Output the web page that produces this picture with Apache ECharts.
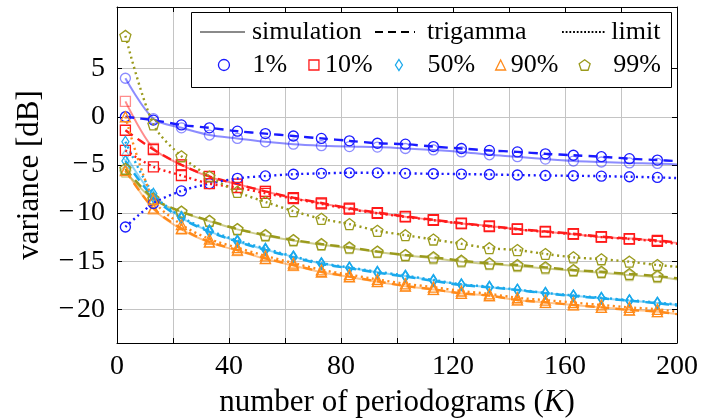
<!DOCTYPE html>
<html><head><meta charset="utf-8">
<script src="https://cdn.jsdelivr.net/npm/echarts@6/dist/echarts.min.js"></script>
<style>html,body{margin:0;padding:0;background:#fff}#c{width:702px;height:419px}</style>
</head><body><div id="c"></div>
<script>
// number of periodograms where markers are drawn; last value of each array is at K = 200
const K = [3,13,23,33,43,53,63,73,83,93,103,113,123,133,143,153,163,173,183,193];
const K_END = 200;
const xTicks = [0,40,80,120,160,200];
const yTicks = [-20,-15,-10,-5,0,5];
const quantiles = ['1%','10%','50%','90%','99%'];
const methods = ['simulation','trigamma','limit'];

// 1 %
const sim1  = [4.0,-0.2,-1.15,-1.9,-2.25,-2.6,-2.85,-3.0,-3.1,-3.15,-3.3,-3.45,-3.65,-3.95,-4.15,-4.4,-4.6,-4.7,-4.8,-4.85,-4.95];
const trig1 = [0.0,-0.35,-0.85,-1.15,-1.5,-1.75,-2.0,-2.25,-2.5,-2.75,-2.85,-3.1,-3.3,-3.5,-3.65,-3.85,-4.0,-4.15,-4.35,-4.5,-4.6];
const lim1  = [-11.45,-9.0,-7.7,-6.95,-6.4,-6.15,-5.97,-5.88,-5.82,-5.82,-5.88,-5.92,-5.95,-6.0,-6.05,-6.1,-6.13,-6.17,-6.23,-6.3,-6.37];
// 10 %
const sim10  = [1.6,-3.3,-5.0,-6.25,-7.0,-7.75,-8.45,-9.0,-9.55,-10.0,-10.38,-10.73,-11.1,-11.35,-11.7,-11.95,-12.2,-12.5,-12.65,-12.9,-13.1];
const trig10 = [-1.4,-3.4,-5.0,-6.2,-7.0,-7.75,-8.4,-8.95,-9.5,-9.95,-10.35,-10.7,-11.05,-11.35,-11.65,-11.9,-12.15,-12.45,-12.65,-12.85,-13.05];
const lim10  = [-3.5,-5.2,-6.1,-6.95,-7.35,-7.95,-8.5,-9.05,-9.6,-10.03,-10.4,-10.75,-11.1,-11.4,-11.7,-11.95,-12.2,-12.5,-12.7,-12.95,-13.2];
// 50 %
const sim50  = [-4.0,-8.2,-10.5,-11.9,-12.95,-13.8,-14.55,-15.25,-15.7,-16.15,-16.55,-17.0,-17.45,-17.7,-18.0,-18.3,-18.6,-18.85,-19.1,-19.35,-19.55];
const trig50 = [-4.6,-8.4,-10.55,-11.95,-12.98,-13.84,-14.6,-15.3,-15.74,-16.2,-16.6,-17.06,-17.48,-17.72,-18.0,-18.34,-18.62,-18.86,-19.1,-19.38,-19.6];
const lim50  = [-2.6,-8.0,-10.4,-11.8,-12.85,-13.7,-14.5,-15.2,-15.65,-16.1,-16.5,-16.95,-17.4,-17.65,-17.95,-18.3,-18.55,-18.8,-19.05,-19.3,-19.5];
// 90 %
const sim90  = [-5.5,-9.6,-11.7,-13.05,-13.9,-14.75,-15.45,-16.15,-16.65,-17.15,-17.6,-17.95,-18.35,-18.6,-19.05,-19.3,-19.55,-19.8,-20.05,-20.25,-20.5];
const trig90 = [-5.6,-9.5,-11.6,-13.0,-13.84,-14.7,-15.4,-16.1,-16.6,-17.1,-17.58,-17.93,-18.34,-18.58,-19.03,-19.27,-19.55,-19.8,-20.07,-20.25,-20.5];
const lim90  = [0.0,-8.6,-11.2,-12.7,-13.6,-14.45,-15.2,-15.9,-16.4,-16.9,-17.35,-17.7,-18.1,-18.4,-18.8,-19.05,-19.3,-19.55,-19.8,-20.0,-20.25];
// 99 %
const sim99  = [-5.7,-8.6,-9.9,-10.85,-11.7,-12.35,-12.85,-13.3,-13.65,-14.05,-14.4,-14.7,-15.05,-15.3,-15.5,-15.75,-16.0,-16.2,-16.45,-16.65,-16.9];
const trig99 = [-5.4,-8.5,-9.85,-10.8,-11.66,-12.28,-12.8,-13.22,-13.57,-14.0,-14.36,-14.6,-14.95,-15.22,-15.4,-15.64,-15.92,-16.1,-16.33,-16.54,-16.78];
const lim99  = [8.4,-0.8,-4.1,-6.2,-7.8,-8.85,-9.8,-10.6,-11.15,-11.85,-12.3,-12.75,-13.2,-13.65,-13.85,-14.25,-14.6,-14.8,-15.05,-15.4,-15.58];

const FONT = 'Liberation Serif';
const FS = 26;      // legend
const FS_TICK = 28; // tick labels
const FS_NAME = 31; // axis titles
const COLORS = ['#1a1aff','#ff1a1a','#1aa9ec','#ff8a1a','#9a9a1c'];
const PENT = 'path://M0,-1L0.951,-0.309L0.588,0.809L-0.588,0.809L-0.951,-0.309Z';
const SYMBOLS = ['circle','rect','diamond','triangle',PENT];
const SIZES = [10,10,[7,11],10,11];
const VALUES = [[sim1,trig1,lim1],[sim10,trig10,lim10],[sim50,trig50,lim50],[sim90,trig90,lim90],[sim99,trig99,lim99]];

function mk(qi, mi) {
  const vals = VALUES[qi][mi];
  const color = COLORS[qi];
  const data = K.map((k,i)=>[k, vals[i]]);
  data.push({value:[K_END, vals[K.length]], symbol:'none'});
  const type = mi===0 ? 'solid' : (mi===1 ? [9,6] : [2,3.4]);
  const op = mi===0 ? 0.5 : 1;
  return {
    type:'line', name: methods[mi]+' '+quantiles[qi], data, smooth:0.3,
    symbol: SYMBOLS[qi], symbolSize: SIZES[qi], showAllSymbol:true,
    lineStyle:{color, width: mi===0?2:2.4, type, opacity:op},
    itemStyle:{color:'rgba(0,0,0,0)', borderColor:color, borderWidth:1.3, opacity:op},
    emphasis:{disabled:true}, silent:true, animation:false, z: 2+mi
  };
}
const series = [];
for (let mi=0; mi<3; mi++) for (let qi=0; qi<5; qi++) series.push(mk(qi,mi));
// legend-only entries
methods.concat(quantiles).forEach(n => series.push({type:'line', name:n, data:[], silent:true}));

const dash = (()=>{let p='path://';for(let x=0;x<40;x+=13)p+='M'+x+',0h'+Math.min(8,40-x)+'v2h-'+Math.min(8,40-x)+'z';return p;})();
const dots = (()=>{let p='path://';for(let x=0;x<44;x+=3.7)p+='M'+x.toFixed(2)+',0h1.8v2h-1.8z';return p;})();
const txt = pad => ({fontFamily:FONT,fontSize:FS,color:'#000',lineHeight:30,padding:[0,0,0,pad]});
function lg(left, top, name, icon, w, h, style, pad) {
  return {left, top, padding:0, itemWidth:w, itemHeight:h, selectedMode:false, z:60,
    data:[{name, icon, itemStyle:style}], textStyle:txt(pad)};
}
const hollow = c => ({color:'rgba(0,0,0,0)', borderColor:c, borderWidth:1.3});
const legends = [
  lg(200, 17, 'simulation', 'path://M0,0H45V2H0Z', 45, 2, {color:'#8a8a8a', borderWidth:0}, 2),
  lg(375, 17, 'trigamma', dash, 40, 2, {color:'#000', borderWidth:0}, 7),
  lg(562, 17, 'limit', dots, 44, 2, {color:'#000', borderWidth:0}, 1),
  lg(217.8, 50, '1%', 'circle', 11, 11, hollow(COLORS[0]), 18),
  lg(308.3, 50, '10%', 'rect', 10, 10, hollow(COLORS[1]), 1),
  lg(394.8, 50, '50%', 'diamond', 7, 11, hollow(COLORS[2]), 20),
  lg(495, 50, '90%', 'triangle', 10, 10, hollow(COLORS[3]), 0),
  lg(578.5, 50, '99%', PENT, 11, 11, hollow(COLORS[4]), 18)
];

const gridLine = {show:true, lineStyle:{color:'#c4c4c4', width:1}};
const axLine = {show:true, onZero:false, lineStyle:{color:'#000', width:1}};
const fmtY = v => v<0 ? '\u2212\u200A'+(-v) : ''+v;
const option = {
  animation:false,
  backgroundColor:'#fff',
  grid:{left:117, right:25, top:7, bottom:76, outerBoundsMode:'none', containLabel:false},
  xAxis:[
    {type:'value', min:0, max:200, interval:20, position:'bottom',
     axisLine:axLine, axisTick:{inside:true, length:5, lineStyle:{color:'#000'}},
     splitLine:gridLine,
     axisLabel:{fontFamily:FONT, fontSize:FS_TICK, lineHeight:30, color:'#000', margin:9,
       formatter: v => xTicks.includes(v) ? ''+v : ''},
     name:'number of periodograms ({i|K})', nameLocation:'middle', nameGap:45,
     nameTextStyle:{fontFamily:FONT, fontSize:FS_NAME, lineHeight:30, color:'#000',
       rich:{i:{fontFamily:FONT,fontSize:FS_NAME,lineHeight:30,fontStyle:'italic',color:'#000'}}}},
    {type:'value', min:0, max:200, interval:20, position:'top',
     axisLine:axLine, axisTick:{inside:true, length:5, lineStyle:{color:'#000'}},
     splitLine:{show:false}, axisLabel:{show:false}}
  ],
  yAxis:[
    {type:'value', min:-23.5, max:11.4, position:'left',
     axisLine:axLine, axisTick:{inside:true, length:5, customValues:yTicks, lineStyle:{color:'#000'}},
     splitLine:gridLine,
     axisLabel:{fontFamily:FONT, fontSize:FS_TICK, color:'#000', margin:12, customValues:yTicks, formatter:fmtY},
     name:'variance [dB]', nameLocation:'middle', nameGap:72,
     nameTextStyle:{fontFamily:FONT, fontSize:FS_NAME, lineHeight:30, color:'#000'}},
    {type:'value', min:-23.5, max:11.4, position:'right',
     axisLine:axLine, axisTick:{inside:true, length:5, customValues:yTicks, lineStyle:{color:'#000'}},
     splitLine:{show:false}, axisLabel:{show:false}}
  ],
  legend: legends,
  graphic:[{type:'rect', z:50, shape:{x:191.5, y:12.5, width:480, height:75},
    style:{fill:'#fff', stroke:'#000', lineWidth:1}}],
  series
};
const chart = echarts.init(document.getElementById('c'), null, {renderer:'canvas'});
chart.setOption(option);
</script></body></html>
